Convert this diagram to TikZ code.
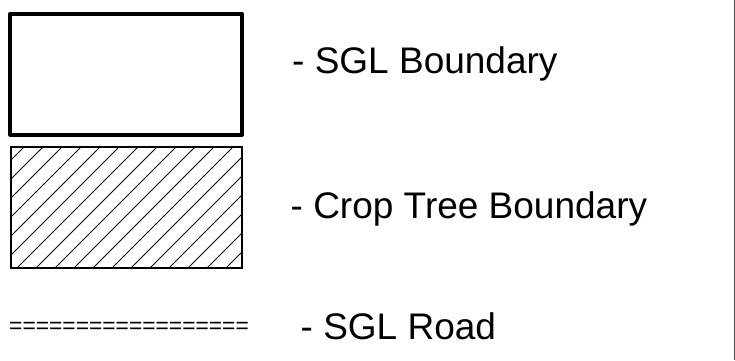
\documentclass[tikz,border=0pt]{standalone}
\usepackage{fontspec}
\setmainfont{Liberation Sans}
\tikzset{
  sglbox/.style={draw=black, line width=4pt, line join=round},
  cropbox/.style={draw=black, line width=2pt},
  hatchline/.style={draw=black, line width=0.9pt},
  label/.style={anchor=base west, inner sep=0pt, font=\fontsize{37}{40}\selectfont},
  roadsym/.style={anchor=base west, inner sep=0pt, font=\fontsize{22.8}{26}\selectfont},
  edgeline/.style={draw=black!70, line width=1pt}
}
\begin{document}
\begin{tikzpicture}[x=1pt, y=-1pt]
\useasboundingbox (0,0) rectangle (735,360);
\fill[white] (0,0) rectangle (735,360);
% right border
\coordinate (bt) at (734.5,0);
\coordinate (bb) at (734.5,360);
\draw[edgeline] (bt) -- (bb);
% SGL boundary symbol
\draw[sglbox] (10.3,13.7) rectangle (242,134.7);
% Crop tree boundary symbol (hatched)
\begin{scope}
  \clip (11,147) rectangle (242,268);
  \foreach \k in {0,...,17} {
    \pgfmathsetmacro{\c}{171+19*\k}
    \draw[hatchline] ({\c-140},140) -- ({\c-275},275);
  }
\end{scope}
\draw[cropbox] (11,147) rectangle (242,268);
% road symbol
\node[roadsym] (road) at (9,333) {==================};
% labels
\node[label] (l1) at (292,73) {- SGL Boundary};
\node[label] (l2) at (290.5,218) {- Crop Tree Boundary};
\node[label] (l3) at (300.5,339) {- SGL Road};
\end{tikzpicture}
\end{document}
